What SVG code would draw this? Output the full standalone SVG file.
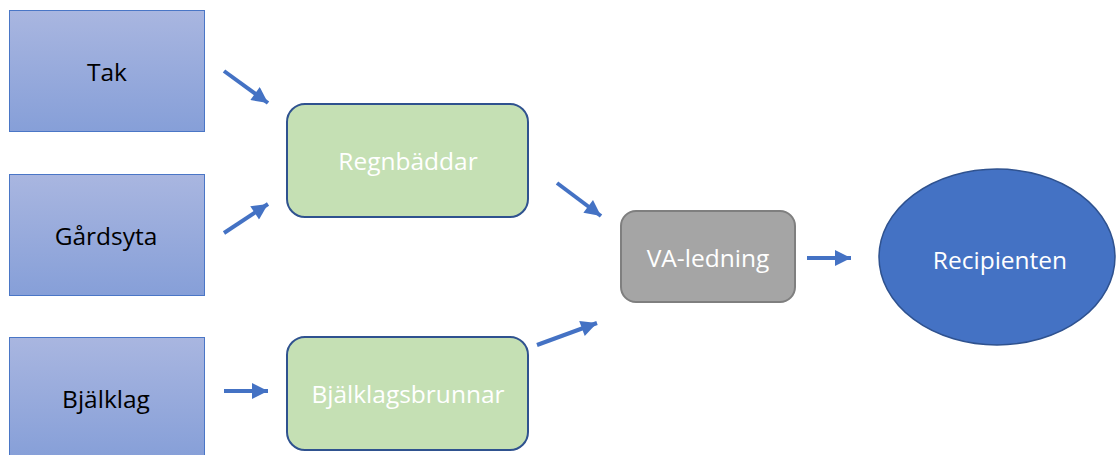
<svg xmlns="http://www.w3.org/2000/svg" width="1116" height="455" viewBox="0 0 1116 455">
<defs>
<linearGradient id="gb" x1="0" y1="0" x2="0" y2="1">
<stop offset="0" stop-color="#a9b6e0"/>
<stop offset="1" stop-color="#869fd8"/>
</linearGradient>
<marker id="ah" viewBox="0 0 10 10" refX="10" refY="5" markerWidth="4.4" markerHeight="4" orient="auto" markerUnits="strokeWidth">
<path d="M0,0 L10,5 L0,10 z" fill="#4472c4"/>
</marker>
<style>
.src{fill:url(#gb);stroke:#4a76c6;stroke-width:1}
.grn{fill:#c5e0b4;stroke:#2f528f;stroke-width:2}
.gry{fill:#a5a5a5;stroke:#7f7f7f;stroke-width:2}
.rec{fill:#4472c4;stroke:#2f528f;stroke-width:1.5}
.t{font-family:"Open Sans","Liberation Sans",sans-serif;font-size:24.5px;text-anchor:middle;dominant-baseline:central}
.dk{fill:#000}
.wh{fill:#fff}
.ar{stroke:#4472c4;stroke-width:4;fill:none;marker-end:url(#ah)}
</style>
</defs>
<g id="tak"><rect class="src" x="9.5" y="10.5" width="195" height="121"/><text class="t dk" x="107" y="71">Tak</text></g>
<g id="gardsyta"><rect class="src" x="9.5" y="174.5" width="195" height="121"/><text class="t dk" x="106" y="235">Gårdsyta</text></g>
<g id="bjalklag"><rect class="src" x="9.5" y="337.5" width="195" height="121"/><text class="t dk" x="106" y="398">Bjälklag</text></g>
<g id="regnbaddar"><rect class="grn" x="287" y="104" width="241" height="113" rx="18"/><text class="t wh" x="408" y="160">Regnbäddar</text></g>
<g id="bjalklagsbrunnar"><rect class="grn" x="287" y="337" width="241" height="113" rx="18"/><text class="t wh" x="408" y="393">Bjälklagsbrunnar</text></g>
<g id="valedning"><rect class="gry" x="621" y="211" width="174" height="91" rx="15"/><text class="t wh" x="708" y="257">VA-ledning</text></g>
<g id="recipienten"><ellipse class="rec" cx="997" cy="257" rx="118" ry="88"/><text class="t wh" x="1000" y="259">Recipienten</text></g>
<g id="connectors">
<line class="ar" x1="224" y1="71" x2="268" y2="103"/>
<line class="ar" x1="224" y1="233" x2="268" y2="204"/>
<line class="ar" x1="224" y1="391" x2="268" y2="391"/>
<line class="ar" x1="557" y1="183" x2="601" y2="216"/>
<line class="ar" x1="537" y1="345" x2="597" y2="323"/>
<line class="ar" x1="807" y1="258" x2="851" y2="258"/>
</g>
</svg>
